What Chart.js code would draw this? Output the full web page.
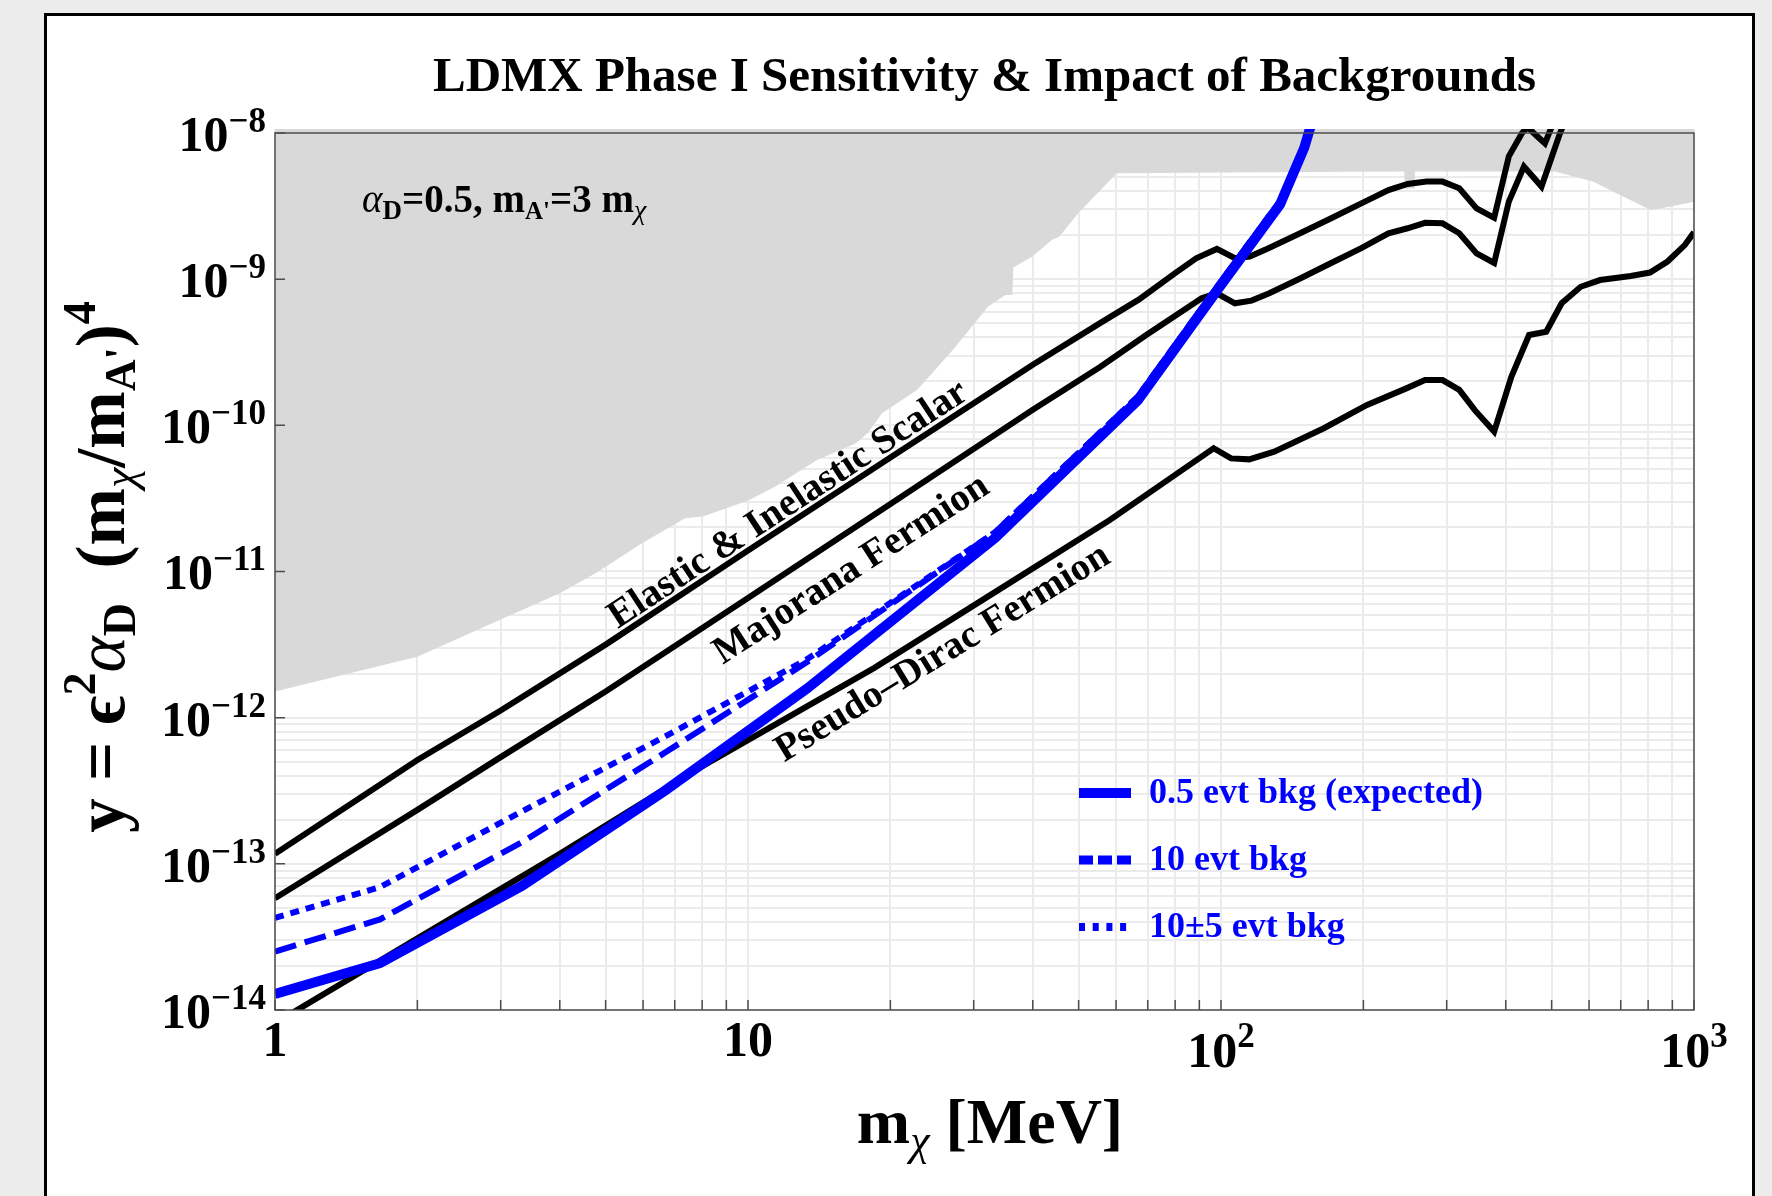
<!DOCTYPE html>
<html>
<head>
<meta charset="utf-8">
<script src="https://cdn.jsdelivr.net/npm/chart.js@4.4.0/dist/chart.umd.min.js"></script>
<style>
  html, body { margin: 0; padding: 0; background: #ececec; overflow: hidden; }
  #panel { position: absolute; left: 44px; top: 13px; width: 1705px; height: 1300px; background: #fff; border: 3px solid #000; }
  #chart { position: absolute; left: 0; top: 0; }
</style>
</head>
<body>
<div id="panel"></div>
<canvas id="chart" width="1772" height="1196"></canvas>
<script>
// m_chi in MeV, y = eps^2 alpha_D (m_chi/m_A')^4

// Elastic & Inelastic Scalar target
var scalarMass = [1, 1.5, 2, 3, 5, 10, 20, 40, 55.5, 67, 80, 88.6, 98, 107, 115, 126, 147, 171, 198, 226, 248, 272, 294, 319, 347, 378, 406, 433, 445, 458, 484, 500, 520];
var scalarY = [1.17e-13, 2.78e-13, 5.13e-13, 1.12e-12, 3.16e-12, 1.39e-11, 6.03e-11, 2.60e-10, 5.0e-10, 7.24e-10, 1.10e-9, 1.39e-9, 1.61e-9, 1.39e-9, 1.43e-9, 1.63e-9, 2.06e-9, 2.61e-9, 3.30e-9, 4.07e-9, 4.48e-9, 4.65e-9, 4.65e-9, 4.19e-9, 3.05e-9, 2.63e-9, 6.92e-9, 1.0e-8, 1.10e-8, 1.0e-8, 8.5e-9, 1.1e-8, 1.58e-8];

// Majorana Fermion target
var majoranaMass = [1, 2, 3, 5, 10, 20, 40, 55.5, 69.5, 91, 98, 107, 116, 126.5, 147, 171, 198, 226, 248, 270, 294, 319, 347, 378, 406, 437, 476, 521, 545];
var majoranaY = [5.81e-14, 2.34e-13, 5.37e-13, 1.51e-12, 6.58e-12, 2.90e-11, 1.28e-10, 2.51e-10, 4.15e-10, 7.40e-10, 8.0e-10, 6.84e-10, 7.13e-10, 8.0e-10, 1.01e-9, 1.29e-9, 1.63e-9, 2.06e-9, 2.23e-9, 2.43e-9, 2.41e-9, 2.06e-9, 1.50e-9, 1.29e-9, 3.39e-9, 5.89e-9, 4.30e-9, 1.0e-8, 1.41e-8];

// Pseudo-Dirac Fermion target
var diracMass = [1, 2, 4, 7.76, 18.5, 35, 58.2, 80, 96.5, 105, 114.7, 129.6, 165, 203.6, 246.5, 270, 294, 319, 344, 378, 411, 448, 487, 525, 576, 633, 735, 807, 879, 956, 1000];
var diracY = [8.13e-15, 3.09e-14, 1.17e-13, 4.39e-13, 2.19e-12, 8.0e-12, 2.25e-11, 4.58e-11, 6.97e-11, 5.94e-11, 5.85e-11, 6.61e-11, 9.55e-11, 1.38e-10, 1.79e-10, 2.04e-10, 2.04e-10, 1.75e-10, 1.27e-10, 9.06e-11, 2.15e-10, 4.15e-10, 4.37e-10, 6.84e-10, 8.87e-10, 9.86e-10, 1.05e-9, 1.11e-9, 1.32e-9, 1.71e-9, 2.09e-9];

// LDMX Phase I reach for different background assumptions
var bkgMass = [1, 1.667, 3.333, 6.667, 13.33, 33.33, 66.67, 100, 133.3, 150, 166.7];
var bkgExpected = [1.29e-14, 2.09e-14, 7.08e-14, 3.16e-13, 1.58e-12, 1.70e-11, 1.48e-10, 9.12e-10, 3.24e-9, 7.94e-9, 2.51e-8];
var bkgTen = [2.51e-14, 4.17e-14, 1.41e-13, 5.75e-13, 2.40e-12, 1.86e-11, 1.57e-10, 9.66e-10, 3.43e-9, 8.41e-9, 2.66e-8];
var bkgTenPm5 = [4.27e-14, 6.92e-14, 2.29e-13, 7.41e-13, 2.51e-12, 1.86e-11, 1.57e-10, 9.66e-10, 3.43e-9, 8.41e-9, 2.66e-8];

// existing constraints (gray)
var excludedMass = [1, 2, 3, 4, 4.76, 5.97, 7.36, 8.03, 10.07, 11.4, 14.0, 16.9, 17.9, 19.2, 22.8, 27.1, 32.2, 35.0, 36.2, 36.4, 39.9, 43.9, 45.5, 49.9, 54.8, 60.2, 150, 244, 245, 256, 257, 508, 611, 710, 809, 889, 1000];
var excludedY = [1.51e-12, 2.61e-12, 4.69e-12, 7.10e-12, 9.73e-12, 1.56e-11, 2.31e-11, 2.38e-11, 3.08e-11, 3.80e-11, 5.79e-11, 7.53e-11, 8.81e-11, 1.21e-10, 1.75e-10, 3.27e-10, 6.49e-10, 7.8e-10, 7.8e-10, 1.2e-9, 1.43e-9, 1.85e-9, 1.95e-9, 2.82e-9, 3.87e-9, 5.31e-9, 5.4e-9, 5.45e-9, 4.17e-9, 4.17e-9, 5.45e-9, 5.45e-9, 4.65e-9, 3.66e-9, 2.97e-9, 3.13e-9, 3.39e-9];

// tick labels
var xMajor = [1, 10, 100, 1000];
var xTickLabels = [['1', ''], ['10', ''], ['10', '2'], ['10', '3']];
var yMajor = [1e-14, 1e-13, 1e-12, 1e-11, 1e-10, 1e-9, 1e-8];
var yTickLabels = ['\u221214', '\u221213', '\u221212', '\u221211', '\u221210', '\u22129', '\u22128'];

// text placed along the curves
var curveLabels = [
  { text: 'Elastic & Inelastic Scalar', m: 12.5, y: 2.5e-11, angle: -33.3 },
  { text: 'Majorana Fermion', m: 17, y: 9.0e-12, angle: -32.8 },
  { text: 'Pseudo\u2013Dirac Fermion', m: 26.5, y: 2.4e-12, angle: -31.5 }
];

var serif = "'Liberation Serif', 'Times New Roman', serif";
function font(size, style) { return (style || 'bold') + ' ' + size + 'px ' + serif; }

function pts(xs, ys) {
  return xs.map(function (m, i) { return { x: m, y: ys[i] }; });
}

function logTicks(lo, hi) {
  var out = [];
  for (var e = lo; e < hi; e++) {
    for (var k = 1; k < 10; k++) out.push({ value: k * Math.pow(10, e) });
  }
  out.push({ value: Math.pow(10, hi) });
  return out;
}

// draw a row of text pieces (sub/superscripts) on one baseline
function drawRuns(ctx, runs, x, y, align) {
  var w = 0;
  runs.forEach(function (r) { ctx.font = r.font; r.w = ctx.measureText(r.text).width; w += r.w; });
  var cx = align === 'center' ? x - w / 2 : (align === 'right' ? x - w : x);
  runs.forEach(function (r) {
    ctx.font = r.font;
    ctx.fillStyle = r.color || '#000';
    ctx.fillText(r.text, cx, y + (r.dy || 0));
    cx += r.w;
  });
}

var textPlugin = {
  id: 'ldmxText',
  afterDatasetsDraw: function (chart) {
    var ctx = chart.ctx;
    var xs = chart.scales.x, ys = chart.scales.y, area = chart.chartArea;
    var top = ys.getPixelForValue(1e-8);
    ctx.save();
    ctx.textAlign = 'left';
    ctx.textBaseline = 'alphabetic';

    // frame and tick marks
    ctx.strokeStyle = '#4d4d4d';
    ctx.lineWidth = 1.5;
    ctx.strokeRect(area.left, top, area.right - area.left, area.bottom - top);
    ctx.beginPath();
    xs.ticks.forEach(function (t) {
      var px = xs.getPixelForValue(t.value);
      ctx.moveTo(px, area.bottom);
      ctx.lineTo(px, area.bottom - 10);
    });
    yMajor.forEach(function (v) {
      var py = ys.getPixelForValue(v);
      ctx.moveTo(area.left, py);
      ctx.lineTo(area.left + 10, py);
    });
    ctx.stroke();

    // tick labels
    yMajor.forEach(function (v, i) {
      var py = ys.getPixelForValue(v);
      drawRuns(ctx, [{ text: '10', font: font(50) }, { text: yTickLabels[i], font: font(35), dy: -19 }], area.left - 9, py + 18, 'right');
    });
    xMajor.forEach(function (v, i) {
      var px = xs.getPixelForValue(v);
      var lab = xTickLabels[i];
      if (lab[1]) {
        drawRuns(ctx, [{ text: lab[0], font: font(50) }, { text: lab[1], font: font(35), dy: -20 }], px, 1067, 'center');
      } else {
        drawRuns(ctx, [{ text: lab[0], font: font(50) }], px, 1056, 'center');
      }
    });

    // title
    drawRuns(ctx, [{ text: 'LDMX Phase I Sensitivity & Impact of Backgrounds', font: font(49) }], (area.left + area.right) / 2, 91, 'center');

    // axis titles
    drawRuns(ctx, [
      { text: 'm', font: font(64) },
      { text: '\u03c7', font: font(44, 'italic'), dy: 12 },
      { text: ' [MeV]', font: font(64) }
    ], 990, 1143, 'center');

    ctx.save();
    ctx.translate(124, 567);
    ctx.rotate(-Math.PI / 2);
    drawRuns(ctx, [
      { text: 'y = \u03f5', font: font(69) },
      { text: '2', font: font(46), dy: -29 },
      { text: '\u03b1', font: font(69, 'italic') },
      { text: 'D', font: font(46), dy: 11 },
      { text: '\u2002(m', font: font(69) },
      { text: '\u03c7', font: font(46, 'italic'), dy: 11 },
      { text: '/m', font: font(69) },
      { text: "A'", font: font(44), dy: 11 },
      { text: ')', font: font(69) },
      { text: '4', font: font(46), dy: -29 }
    ], 0, 0, 'center');
    ctx.restore();

    // parameter note
    drawRuns(ctx, [
      { text: '\u03b1', font: font(39, 'italic') },
      { text: 'D', font: font(27), dy: 7 },
      { text: '=0.5, m', font: font(39) },
      { text: "A'", font: font(25), dy: 7 },
      { text: '=3 m', font: font(39) },
      { text: '\u03c7', font: font(28, 'italic'), dy: 7 }
    ], 362, 212, 'left');

    // curve labels
    curveLabels.forEach(function (l) {
      ctx.save();
      ctx.translate(xs.getPixelForValue(l.m), ys.getPixelForValue(l.y));
      ctx.rotate(l.angle * Math.PI / 180);
      drawRuns(ctx, [{ text: l.text, font: font(39) }], 0, 0, 'center');
      ctx.restore();
    });

    // legend
    var rows = [803, 870, 937];
    chart.data.datasets.filter(function (d) { return d.legendDash; }).forEach(function (d, i) {
      var by = rows[i];
      ctx.save();
      ctx.strokeStyle = d.borderColor;
      ctx.lineWidth = d.legendWidth;
      ctx.setLineDash(d.legendDash);
      ctx.beginPath();
      ctx.moveTo(1079, by - 10);
      ctx.lineTo(1131, by - 10);
      ctx.stroke();
      ctx.restore();
      drawRuns(ctx, [{ text: d.label, font: font(36), color: d.borderColor }], 1149, by, 'left');
    });

    ctx.restore();
  }
};

var blue = '#0000ff';

// Chart Data (first dataset is drawn on top)
var chartData = {
  datasets: [
    { label: '0.5 evt bkg (expected)', data: pts(bkgMass, bkgExpected), borderColor: blue, borderWidth: 10, legendDash: [1, 0], legendWidth: 10 },
    { label: '10 evt bkg', data: pts(bkgMass, bkgTen), borderColor: blue, borderWidth: 6, borderDash: [22, 9], legendDash: [14, 5], legendWidth: 9 },
    { label: '10\u00b15 evt bkg', data: pts(bkgMass, bkgTenPm5), borderColor: blue, borderWidth: 6, borderDash: [9, 7], legendDash: [6, 7.7], legendWidth: 8 },
    { label: 'Elastic & Inelastic Scalar', data: pts(scalarMass, scalarY), borderColor: '#000', borderWidth: 6 },
    { label: 'Majorana Fermion', data: pts(majoranaMass, majoranaY), borderColor: '#000', borderWidth: 6 },
    { label: 'Pseudo-Dirac Fermion', data: pts(diracMass, diracY), borderColor: '#000', borderWidth: 6 },
    { label: 'Excluded', data: pts(excludedMass, excludedY), borderWidth: 0, borderColor: 'rgba(0,0,0,0)', backgroundColor: '#d9d9d9', fill: 'end' }
  ]
};

// Chart Options
var chartOptions = {
  responsive: false,
  animation: false,
  devicePixelRatio: 1,
  layout: { padding: { left: 275, top: 129, right: 78, bottom: 186 } },
  elements: { point: { radius: 0 }, line: { tension: 0 } },
  plugins: { legend: { display: false }, tooltip: { enabled: false } },
  scales: {
    x: {
      type: 'logarithmic', min: 1, max: 1000,
      ticks: { display: false },
      grid: { color: '#ebebeb', lineWidth: 2, drawTicks: false },
      border: { display: false },
      afterBuildTicks: function (s) { s.ticks = logTicks(0, 3); }
    },
    y: {
      type: 'logarithmic', min: 1e-14, max: 1.065e-8,
      ticks: { display: false },
      grid: { color: '#ebebeb', lineWidth: 2, drawTicks: false },
      border: { display: false },
      afterBuildTicks: function (s) { s.ticks = logTicks(-14, -8); }
    }
  }
};

var config = {
  type: 'line',
  data: chartData,
  options: chartOptions,
  plugins: [textPlugin]
};

// Create the chart
var ldmxChart = new Chart(document.getElementById('chart'), config);
</script>
</body>
</html>
